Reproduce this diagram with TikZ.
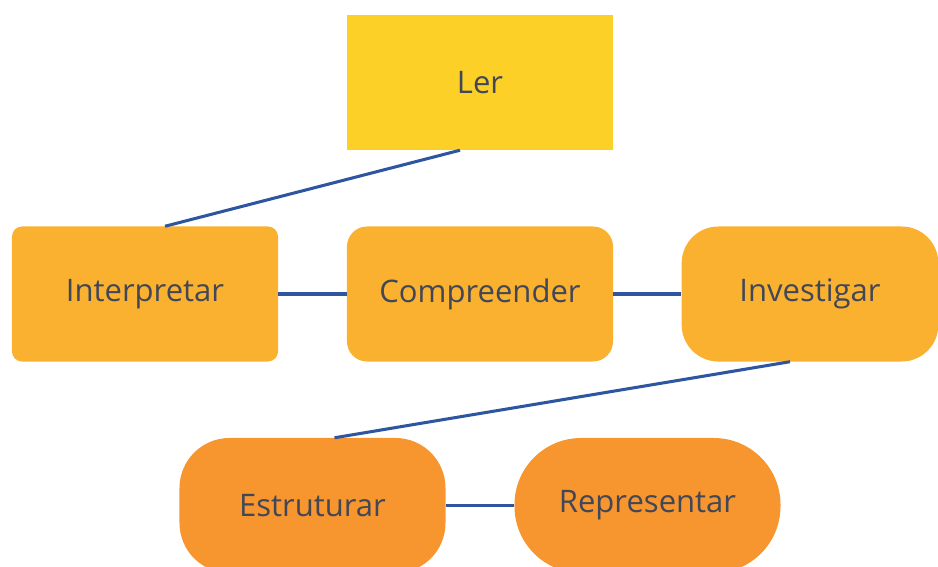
\documentclass[tikz,border=0pt]{standalone}
\usepackage{fontspec}
\setmainfont{Open Sans}
\usetikzlibrary{calc}
\definecolor{lerYellow}{HTML}{FCD026}
\definecolor{midOrange}{HTML}{FBB130}
\definecolor{lowOrange}{HTML}{F7952F}
\definecolor{linkBlue}{HTML}{2E56A0}
\definecolor{wordGray}{HTML}{414757}
\tikzset{
  stage/.style={minimum width=7.98cm, minimum height=4.05cm, inner sep=0pt,
    font=\fontsize{26.5}{31}\selectfont, text=wordGray},
  link/.style={linkBlue, line width=2.6pt}
}

\begin{document}
\begin{tikzpicture}[x=0.03cm, y=-0.03cm]
        % page: 938 x 567
        \useasboundingbox (0,0) rectangle (938,567);
        \clip (0,0) rectangle (938,567);
        % the stages
        \node[stage, fill=lerYellow] (ler) at (480,82.5) {Ler};
        \node[stage, fill=midOrange, rounded corners=0.3cm] (interp) at (145,294) {Interpretar};
        \node[stage, fill=midOrange, rounded corners=0.6cm] (compr) at (480,294) {Compreender};
        \node[stage, fill=midOrange, rounded corners=1.1cm, minimum width=7.7cm] (invest) at (810,294) {Investigar};
        \node[stage, fill=lowOrange, rounded corners=1.5cm] (estrut) at (312.5,505.5) {Estruturar};
        \node[stage, fill=lowOrange, rounded corners=2cm] (repres) at (647.5,505.5) {Representar};
        % the links
        \draw[link] ($(ler.south)+(-20,0)$) -- ($(interp.north)+(20,0)$);
        \draw[link] (interp) -- (compr);
        \draw[link] (compr) -- (invest);
        \draw[link] ($(invest.south)+(-20,0)$) -- ($(estrut.north)+(22,0)$);
        \draw[link] (estrut) -- (repres);
\end{tikzpicture}
\end{document}
